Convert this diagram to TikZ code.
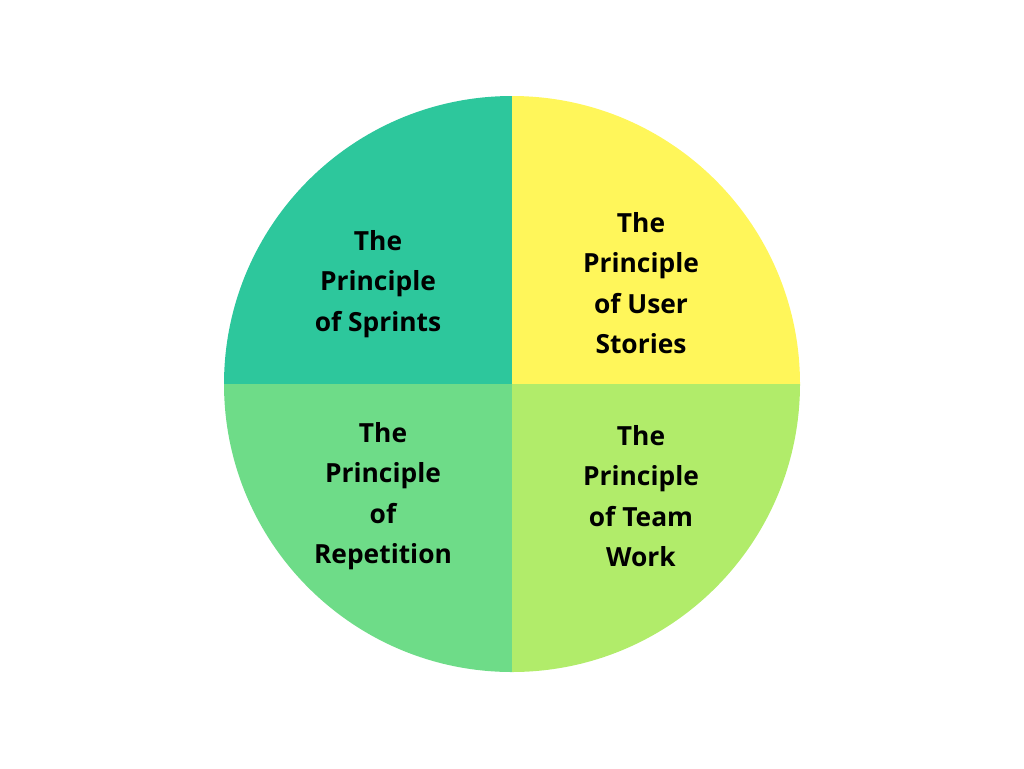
\documentclass[tikz,border=0pt]{standalone}
\usepackage{fontspec}
\setmainfont{Open Sans}
\usetikzlibrary{positioning}
\definecolor{sprintC}{HTML}{2DC79C}
\definecolor{storyC}{HTML}{FFF65A}
\definecolor{repC}{HTML}{6EDC88}
\definecolor{teamC}{HTML}{B1EC6A}
\tikzset{
  label/.style={align=center, font=\fontsize{15}{23}\selectfont\bfseries, text=black}
}
\begin{document}
\begin{tikzpicture}[x=0.02cm, y=-0.02cm]
\useasboundingbox (0,0) rectangle (1024,768);

% quarters
\fill[sprintC] (512,384) -- (224,384) arc[start angle=180, end angle=90, radius=288*0.02cm] -- cycle;
\fill[storyC] (512,384) -- (512,96) arc[start angle=90, end angle=0, radius=288*0.02cm] -- cycle;
\fill[repC] (512,384) -- (512,672) arc[start angle=270, end angle=180, radius=288*0.02cm] -- cycle;
\fill[teamC] (512,384) -- (800,384) arc[start angle=0, end angle=-90, radius=288*0.02cm] -- cycle;

% labels
\node[label] (sprints) at (378,284) {The\\Principle\\of Sprints};
\node[label] (stories) at (641,283) {The\\Principle\\of User\\Stories};
\node[label] (repetition) at (383,496) {The\\Principle\\of\\Repetition};
\node[label] (team) at (641,496) {The\\Principle\\of Team\\Work};
\end{tikzpicture}
\end{document}
